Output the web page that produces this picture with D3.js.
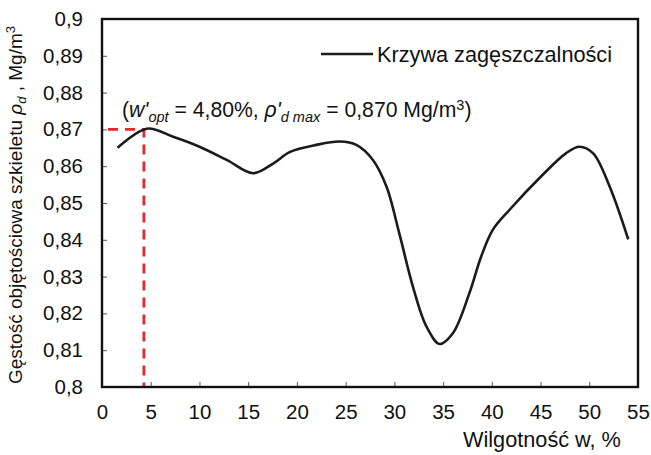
<!DOCTYPE html>
<html>
<head>
<meta charset="utf-8">
<script src="https://cdn.jsdelivr.net/npm/d3@7"></script>
<style>
  body { margin: 0; background: #fff; }
  svg { display: block; font-family: "Liberation Sans", Arial, sans-serif; }
</style>
</head>
<body>
<svg id="chart"></svg>
<script>
// moisture w [%] vs dry density [Mg/m3]
let wValues   = [1.6, 4.6, 7.3, 10.0, 12.8, 15.5, 17.6, 19.3, 22.0, 24.4, 26.1, 27.8, 29.2, 30.5, 31.9, 33.3, 34.65, 36.0, 37.7, 38.9, 40.1, 41.8, 45.2, 47.6, 49.0, 50.4, 52.1, 54.0];
let rhoValues = [0.865, 0.8702, 0.868, 0.8653, 0.8617, 0.8581, 0.8608, 0.8639, 0.8658, 0.8667, 0.8658, 0.8617, 0.8544, 0.8418, 0.8273, 0.8164, 0.8117, 0.8146, 0.8255, 0.8354, 0.8427, 0.8481, 0.8576, 0.8635, 0.8653, 0.8635, 0.8544, 0.8401];
let xTicks = [0, 5, 10, 15, 20, 25, 30, 35, 40, 45, 50, 55];
let yTicks = [0.8, 0.81, 0.82, 0.83, 0.84, 0.85, 0.86, 0.87, 0.88, 0.89, 0.9];
let optW = 4.3;      // where the red marker is drawn
let optRho = 0.87;
let legendLabel = "Krzywa zagęszczalności";

let width = 651, height = 455;
let margin = { top: 19, right: 13, bottom: 68, left: 102 };

let svg = d3.select('#chart').attr('width', width).attr('height', height);

let x = d3.scaleLinear().domain([0, 55]).range([margin.left, width - margin.right]);
let y = d3.scaleLinear().domain([0.8, 0.9]).range([height - margin.bottom, margin.top]);

let fmt = d => d3.format('')(d).replace('.', ',');

// axes, ticks pointing inward
let xAxis = d3.axisBottom(x).tickValues(xTicks).tickSize(-5).tickPadding(17).tickFormat(fmt);
let yAxis = d3.axisLeft(y).tickValues(yTicks).tickSize(-5).tickPadding(19).tickFormat(fmt);

let gx = svg.append('g')
  .attr('transform', `translate(0,${height - margin.bottom})`)
  .call(xAxis);
let gy = svg.append('g')
  .attr('transform', `translate(${margin.left},0)`)
  .call(yAxis);

[gx, gy].forEach(g => {
  g.select('.domain').remove();
  g.selectAll('.tick line').attr('stroke', '#555').attr('stroke-width', 1);
  g.selectAll('.tick text').attr('fill', '#111').style('font-size', '20.5px');
});

// red dashed marker for the optimum
svg.append('path')
  .attr('d', d3.line()([[x(0), y(optRho)], [x(optW), y(optRho)], [x(optW), y(0.8)]]))
  .attr('fill', 'none')
  .attr('stroke', '#e8262b')
  .attr('stroke-width', 2.8)
  .attr('stroke-dasharray', '10,7')
  .attr('stroke-dashoffset', -6);

// compaction curve
let line = d3.line()
  .x((d, i) => x(wValues[i]))
  .y(d => y(d))
  .curve(d3.curveCatmullRom.alpha(0.5));

svg.append('path')
  .datum(rhoValues)
  .attr('d', line)
  .attr('fill', 'none')
  .attr('stroke', '#1b1b1b')
  .attr('stroke-width', 2.6);

// frame
svg.append('rect')
  .attr('x', margin.left)
  .attr('y', margin.top)
  .attr('width', width - margin.left - margin.right)
  .attr('height', height - margin.top - margin.bottom)
  .attr('fill', 'none')
  .attr('stroke', '#111')
  .attr('stroke-width', 2.4);

// legend
svg.append('line')
  .attr('x1', 321).attr('x2', 373).attr('y1', 54).attr('y2', 54)
  .attr('stroke', '#1b1b1b').attr('stroke-width', 2.6);
svg.append('text')
  .attr('x', 377).attr('y', 61.5)
  .style('font-size', '21.7px').attr('fill', '#111')
  .text(legendLabel);

// annotation
let ann = svg.append('text')
  .attr('x', 122).attr('y', 117)
  .style('font-size', '21.2px').attr('fill', '#111');
ann.append('tspan').text('(');
ann.append('tspan').style('font-style', 'italic').text("w'");
ann.append('tspan').style('font-style', 'italic').style('font-size', '14.5px').attr('dy', 5).text('opt');
ann.append('tspan').attr('dy', -5).text(' = 4,80%, ');
ann.append('tspan').style('font-style', 'italic').text("ρ'");
ann.append('tspan').style('font-style', 'italic').style('font-size', '14.5px').attr('dy', 5).text('d max');
ann.append('tspan').attr('dy', -5).text(' = 0,870 Mg/m');
ann.append('tspan').style('font-size', '14.5px').attr('dy', -7).text('3');
ann.append('tspan').attr('dy', 7).text(')');

// x title
svg.append('text')
  .attr('x', 463).attr('y', 447)
  .style('font-size', '21.7px').attr('fill', '#111')
  .text('Wilgotność w, %');

// y title
let yt = svg.append('text')
  .attr('transform', `translate(22,${(margin.top + height - margin.bottom) / 2 + 2}) rotate(-90)`)
  .attr('text-anchor', 'middle')
  .style('font-size', '19px').attr('fill', '#111');
yt.append('tspan').text('Gęstość objętościowa szkieletu ');
yt.append('tspan').style('font-style', 'italic').text('ρ');
yt.append('tspan').style('font-style', 'italic').style('font-size', '13px').attr('dy', 4).text('d');
yt.append('tspan').attr('dy', -4).text(' , Mg/m');
yt.append('tspan').style('font-size', '13px').attr('dy', -7).text('3');
</script>
</body>
</html>
